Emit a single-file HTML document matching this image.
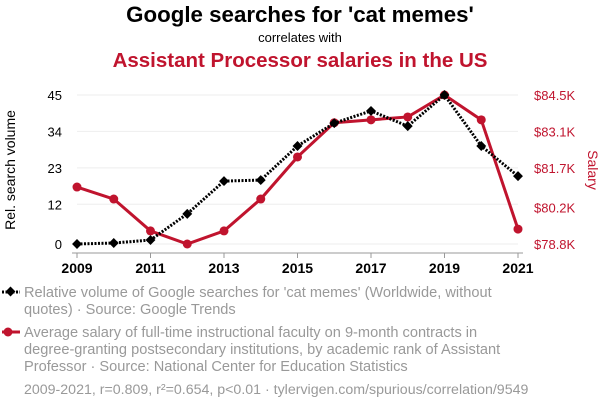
<!DOCTYPE html>
<html><head><meta charset="utf-8"><style>
body{margin:0;background:#fff;font-family:"Liberation Sans",sans-serif;}
#c{position:relative;width:600px;height:408px;overflow:hidden}
</style></head><body>
<div id="c">
<svg width="600" height="408" font-family="Liberation Sans, sans-serif">
<text x="300" y="22" text-anchor="middle" font-size="22.3" font-weight="bold" fill="#000">Google searches for 'cat memes'</text>
<text x="300" y="42" text-anchor="middle" font-size="13" fill="#000">correlates with</text>
<text x="300" y="67" text-anchor="middle" font-size="20.5" font-weight="bold" fill="#c0142e">Assistant Processor salaries in the US</text>
<g id="grid"></g><g id="axes"></g><g id="series"></g>
<text transform="translate(15,170) rotate(-90)" text-anchor="middle" font-size="14" fill="#000">Rel. search volume</text>
<text transform="translate(588,170) rotate(90)" text-anchor="middle" font-size="14" fill="#c0142e">Salary</text>
<g>
<line x1="2" y1="292" x2="20" y2="292" stroke="#000" stroke-width="3" stroke-dasharray="2,1.5"/>
<rect x="7" y="288" width="7" height="7" fill="#000" transform="rotate(45 10.5 291.5)"/>
<text x="24" y="297" font-size="14.6" fill="#999">Relative volume of Google searches for 'cat memes' (Worldwide, without</text>
<text x="24" y="314" font-size="14.6" fill="#999">quotes) · Source: Google Trends</text>
</g>
<g>
<line x1="2" y1="332" x2="20" y2="332" stroke="#c0142e" stroke-width="3"/>
<circle cx="8" cy="332" r="4.5" fill="#c0142e"/>
<text x="24" y="337" font-size="14.6" fill="#999">Average salary of full-time instructional faculty on 9-month contracts in</text>
<text x="24" y="354" font-size="14.6" fill="#999">degree-granting postsecondary institutions, by academic rank of Assistant</text>
<text x="24" y="371" font-size="14.6" fill="#999">Professor · Source: National Center for Education Statistics</text>
</g>
<text x="24" y="394" font-size="14.2" fill="#999">2009-2021, r=0.809, r²=0.654, p&lt;0.01 · tylervigen.com/spurious/correlation/9549</text>
</svg></div>
<script>
const years=[2009,2010,2011,2012,2013,2014,2015,2016,2017,2018,2019,2020,2021];
const searches=[0,0.3,1.2,9.1,19,19.3,29.6,36.5,40.2,35.6,45,29.6,20.5];
const salary=[80.98,80.52,79.3,78.8,79.3,80.52,82.13,83.44,83.55,83.66,84.5,83.55,79.37];
const leftTicks=[0,12,23,34,45];
const rightTicks=[78.8,80.2,81.7,83.1,84.5];
const xTicks=[2009,2011,2013,2015,2017,2019,2021];
const NS="http://www.w3.org/2000/svg";
const X=y=>77+(y-2009)*(518-77)/12;
const YL=v=>244-v*(244-95)/45;
const YR=v=>244-(v-78.8)*(244-95)/(84.5-78.8);
function mk(t,a,p){const e=document.createElementNS(NS,t);for(const k in a)e.setAttribute(k,a[k]);p.appendChild(e);return e;}
const grid=document.getElementById('grid'),axes=document.getElementById('axes'),ser=document.getElementById('series');
leftTicks.forEach((t,i)=>{
 const y=YL(t);
 const g=mk('line',{x1:77,x2:518,y1:y,y2:y,stroke:'#eee','stroke-width':1},grid);
 
 
 const tx=mk('text',{x:62,y:y+5,'text-anchor':'end','font-size':13,fill:'#000'},axes);tx.textContent=t;
 
 
});
rightTicks.forEach(t=>{
 const tx=mk('text',{x:534,y:YR(t)+5,'font-size':13,fill:'#c0142e'},axes);tx.textContent='$'+t.toFixed(1)+'K';
 
 
});
mk('line',{x1:72,x2:523,y1:253,y2:253,stroke:'#999'},axes);
xTicks.forEach(t=>{
 mk('line',{x1:X(t),x2:X(t),y1:253,y2:258,stroke:'#999'},axes);
 const tx=mk('text',{x:X(t),y:273,'text-anchor':'middle','font-size':14,'font-weight':'bold',fill:'#000'},axes);tx.textContent=t;
 
 
});
const rl=mk('polyline',{points:years.map((y,i)=>X(y)+','+YR(salary[i])).join(' '),fill:'none',stroke:'#c0142e','stroke-width':3},ser);


years.forEach((y,i)=>{const c=mk('circle',{cx:X(y),cy:YR(salary[i]),r:4.5,fill:'#c0142e'},ser);
 
 });
const bl=mk('polyline',{points:years.map((y,i)=>X(y)+','+YL(searches[i])).join(' '),fill:'none',stroke:'#000','stroke-width':3,'stroke-dasharray':'2,1.5'},ser);


years.forEach((y,i)=>{const cx=X(y),cy=YL(searches[i]);
 const d=mk('rect',{x:cx-3.5,y:cy-3.5,width:7,height:7,fill:'#000',transform:`rotate(45 ${cx} ${cy})`},ser);
 
 });
</script>
</body></html>
